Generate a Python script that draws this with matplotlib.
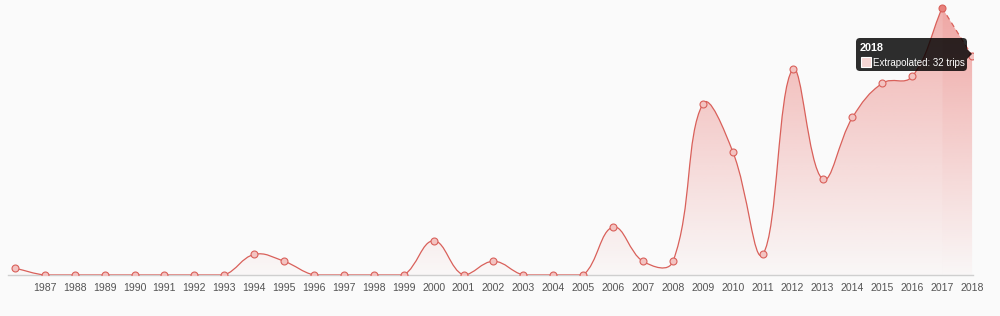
import numpy as np
import matplotlib
matplotlib.use("Agg")
import matplotlib.pyplot as plt
from matplotlib.path import Path
from matplotlib.patches import PathPatch, FancyBboxPatch, Polygon, Rectangle

# trips per year (actual), 1986..2017
years = list(range(1986, 2018))
trips = [1, 0, 0, 0, 0, 0, 0, 0, 3, 2, 0, 0, 0, 0, 5, 0, 2, 0, 0, 0,
         7, 2, 2, 25, 18, 3, 30, 14, 23, 28, 29, 39]
# extrapolated tail
extra_years = [2017, 2018]
extra_trips = [39, 32]
tick_years = list(range(1987, 2019))
tooltip_title = "2018"
tooltip_text = "Extrapolated: 32 trips"

LINE = "#d9605a"
FONT = ["Liberation Sans", "DejaVu Sans"]
BG = "#fafafa"

W, H = 1000, 316
fig = plt.figure(figsize=(W / 100, H / 100), dpi=100, facecolor=BG)
ax = fig.add_axes([8 / W, 1 - 275 / H, (973 - 8) / W, 274 / H])
ax.set_facecolor(BG)
ax.set_xlim(1985.77, 2018.03)
ax.set_ylim(0, 40)

# pixel scales used for chart.js-like spline tension
# (the source canvas was wider than this screenshot, hence the stretch)
sx = (973 - 8) / (2018.03 - 1985.77) / 0.82
sy = 274 / 40.0


def spline_path(xs, ys, tension=0.4, ymin=0.0):
    px = np.array(xs, float) * sx
    py = np.array(ys, float) * sy
    n = len(px)
    cprev, cnext = [], []
    for i in range(n):
        a = max(i - 1, 0)
        b = min(i + 1, n - 1)
        d01 = np.hypot(px[i] - px[a], py[i] - py[a])
        d12 = np.hypot(px[b] - px[i], py[b] - py[i])
        tot = d01 + d12
        s01 = d01 / tot if tot else 0
        s12 = d12 / tot if tot else 0
        fa, fb = tension * s01, tension * s12
        cprev.append((px[i] - fa * (px[b] - px[a]), max(py[i] - fa * (py[b] - py[a]), ymin)))
        cnext.append((px[i] + fb * (px[b] - px[a]), max(py[i] + fb * (py[b] - py[a]), ymin)))
    verts = [(px[0], py[0])]
    codes = [Path.MOVETO]
    for i in range(n - 1):
        verts += [cnext[i], cprev[i + 1], (px[i + 1], py[i + 1])]
        codes += [Path.CURVE4] * 3
    verts = [(vx / sx, vy / sy) for vx, vy in verts]
    return verts, codes


def gradient_fill(verts, codes, strength=1.0):
    fv = verts + [(verts[-1][0], 0), (verts[0][0], 0), verts[0]]
    fc = codes + [Path.LINETO, Path.LINETO, Path.CLOSEPOLY]
    patch = PathPatch(Path(fv, fc), facecolor="none", edgecolor="none")
    ax.add_patch(patch)
    grad = np.zeros((200, 2, 4))
    grad[..., 0] = 230 / 255
    grad[..., 1] = 95 / 255
    grad[..., 2] = 90 / 255
    alpha = (0.02 + 0.46 * np.linspace(1, 0, 200)) * strength
    grad[..., 3] = alpha[:, None]
    im = ax.imshow(grad, extent=[1985.77, 2018.03, 0, 40], aspect="auto",
                   origin="upper", zorder=1, interpolation="bilinear")
    im.set_clip_path(patch)


v1, c1 = spline_path(years, trips)
gradient_fill(v1, c1)
ax.add_patch(PathPatch(Path(v1, c1), facecolor="none", edgecolor=LINE, lw=0.9, zorder=3))

v2, c2 = spline_path(extra_years, extra_trips)
gradient_fill(v2, c2, strength=1.15)
ax.add_patch(PathPatch(Path(v2, c2), facecolor="none", edgecolor=LINE, lw=0.9,
                       linestyle=(0, (4, 3)), zorder=3))

ax.plot(years[:-1], trips[:-1], "o", ms=5, mfc="#f3c3c1", mec=LINE, mew=0.8, zorder=4)
ax.plot(extra_years[1:], extra_trips[1:], "o", ms=5, mfc="#f3c3c1", mec=LINE, mew=0.8, zorder=4)
ax.plot(years[-1:], trips[-1:], "o", ms=5, mfc="#e8817c", mec=LINE, mew=0.8, zorder=4)

for s in ["top", "right", "left"]:
    ax.spines[s].set_visible(False)
ax.spines["bottom"].set_color("#cfcfcf")
ax.spines["bottom"].set_linewidth(1)
ax.set_yticks([])
ax.set_xticks(tick_years)
ax.set_xticklabels([str(y) for y in tick_years], family=FONT, fontsize=7.6, color="#555555")
ax.tick_params(axis="x", length=0, pad=6)

# tooltip, drawn in pixel space
ov = fig.add_axes([0, 0, 1, 1], zorder=10)
ov.set_xlim(0, W)
ov.set_ylim(H, 0)
ov.axis("off")
ov.patch.set_alpha(0)
ov.add_patch(FancyBboxPatch((856, 38), 111, 33, boxstyle="round,pad=0,rounding_size=4",
                            facecolor=(0, 0, 0, 0.82), edgecolor="none"))
ov.add_patch(Polygon([(967, 49), (972, 54), (967, 59)], closed=True,
                     facecolor=(0, 0, 0, 0.82), edgecolor="none"))
ov.text(860, 48, tooltip_title, family=FONT, fontsize=7.8, fontweight="bold",
        color="white", va="center", ha="left")
ov.add_patch(Rectangle((861, 57), 10, 10, facecolor="#f6d6d4", edgecolor="white", lw=0.8))
ov.text(873, 62.5, tooltip_text, family=FONT, fontsize=7.0, color="white",
        va="center", ha="left")

fig.savefig("out.png", dpi=100, facecolor=BG)
